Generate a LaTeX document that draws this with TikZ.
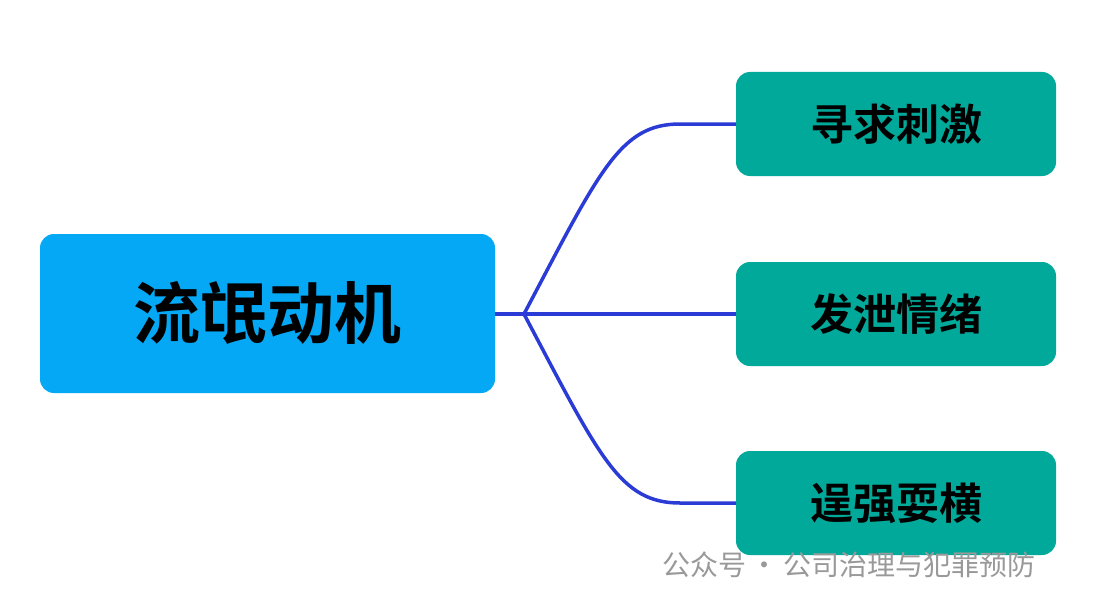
\documentclass[tikz,border=0pt]{standalone}
\usepackage{fontspec}
\newfontfamily\cjk{Noto Sans CJK SC}
\newfontfamily\cjkbold{Noto Sans CJK SC Bold}
\definecolor{rootblue}{HTML}{05A8F5}
\definecolor{leafteal}{HTML}{00A99A}
\definecolor{linkblue}{HTML}{2A3BD6}
\begin{document}
\begin{tikzpicture}[x=1pt, y=-1pt,
    rootbox/.style={fill=rootblue, rounded corners=14pt, minimum width=455pt, minimum height=159pt, font=\cjkbold\fontsize{67}{67}\selectfont},
    leafbox/.style={fill=leafteal, rounded corners=14pt, minimum width=320pt, minimum height=104pt, font=\cjkbold\fontsize{43}{43}\selectfont},
    link/.style={linkblue, line width=3.5pt}]
    \useasboundingbox (0,0) rectangle (1107,607);

    \node[rootbox] (root) at (267.5,313.5) {流氓动机};
    \node[leafbox] (seek) at (896,124) {寻求刺激};
    \node[leafbox] (vent) at (896,314) {发泄情绪};
    \node[leafbox] (bully) at (896,503) {逞强耍横};

    \coordinate (fork) at (524,314);
    \draw[link] (root.east |- fork) -- (fork);
    \draw[link] (fork) .. controls (600,170) and (620,124) .. (680,124) -- (seek.west);
    \draw[link] (fork) -- (vent.west);
    \draw[link] (fork) .. controls (600,458) and (620,503) .. (680,503) -- (bully.west);

    \node[anchor=west, text=gray!80, font=\cjk\fontsize{28}{28}\selectfont, inner sep=0pt] (mark) at (662,565) {公众号\,·\,公司治理与犯罪预防};
\end{tikzpicture}
\end{document}
